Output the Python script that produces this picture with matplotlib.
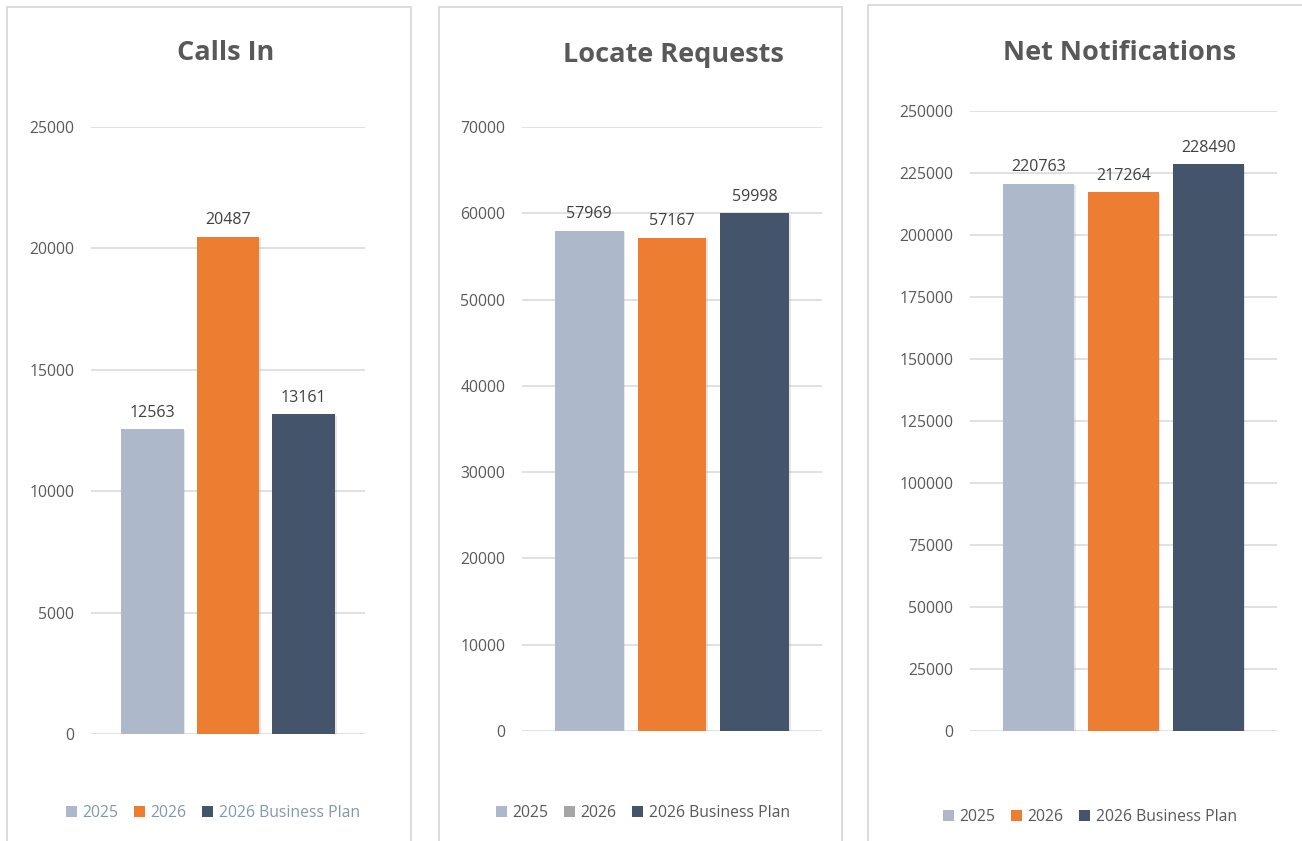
import matplotlib.pyplot as plt
import matplotlib.patheffects as pe
from matplotlib.patches import Rectangle, Patch

plt.rcParams['font.family'] = ['Open Sans', 'DejaVu Sans']

# data
series = ['2025', '2026', '2026 Business Plan']
titles = ['Calls In', 'Locate Requests', 'Net Notifications']
calls_in = [12563, 20487, 13161]
locate_requests = [57969, 57167, 59998]
net_notifications = [220763, 217264, 228490]
ymax = [25000, 70000, 250000]
ystep = [5000, 10000, 25000]

colors = ['#ADB9CA', '#ED7D31', '#44546A']
W, H = 1302, 841

fig = plt.figure(figsize=(W / 100, H / 100), dpi=100)

def fx(x):
    return x / W

def fy(y):
    return 1 - y / H

# panel frames (left, right, top) in pixels
frames = [(7, 411, 7), (439, 842, 7), (868, 1320, 5)]
for l, r, t in frames:
    fig.patches.append(Rectangle((fx(l), fy(H + 20)), fx(r - l), (H + 20 - t) / H,
                                 transform=fig.transFigure, fill=False,
                                 edgecolor='#D9D9D9', lw=1.3))

# axes boxes: left, right, top, bottom (pixels)
boxes = [(91, 365, 127, 734), (522, 822, 127, 731), (970, 1277, 111, 731)]
title_y = [53, 55, 53]
title_x = [226, 673, 1120]
legend_x = [213, 643, 1090]
legend_y = [813, 813, 817]
legend_text_col = ['#8497B0', '#595959', '#595959']
legend_cols = [colors, ['#ADB9CA', '#A5A5A5', '#44546A'], colors]

data = [calls_in, locate_requests, net_notifications]

for i, vals in enumerate(data):
    l, r, t, b = boxes[i]
    ax = fig.add_axes([fx(l), fy(b), (r - l) / W, (b - t) / H])
    bars = ax.bar(range(3), vals, width=0.83, color=colors, zorder=3)
    for bar in bars:
        bar.set_path_effects([pe.SimplePatchShadow(offset=(1.2, -1.2), alpha=0.18, shadow_rgbFace='#7F7F7F'),
                              pe.Normal()])
    ax.bar_label(bars, labels=[str(v) for v in vals], padding=6, fontsize=11.5, color='#404040')
    ax.set_xlim(-0.81, 2.81)
    ax.set_ylim(0, ymax[i])
    ax.set_yticks(range(0, ymax[i] + 1, ystep[i]))
    ax.set_xticks([])
    ax.grid(axis='y', color='#D9D9D9', lw=1.1, zorder=0)
    ax.tick_params(axis='y', length=0, pad=12, labelsize=11.3, labelcolor='#595959')
    for s in ax.spines.values():
        s.set_visible(False)
    ax.patch.set_alpha(0)

    fig.text(fx(title_x[i]), fy(title_y[i]), titles[i], ha='center', va='center',
             fontsize=19.5, fontweight='bold', color='#595959')

    handles = [Patch(facecolor=c) for c in legend_cols[i]]
    fig.legend(handles, series, loc='center', bbox_to_anchor=(fx(legend_x[i]), fy(legend_y[i])),
               ncol=3, frameon=False, fontsize=11.3, labelcolor=legend_text_col[i],
               handlelength=0.7, handleheight=0.7, handletextpad=0.35, columnspacing=1.0)

fig.savefig('out.png', dpi=100)
